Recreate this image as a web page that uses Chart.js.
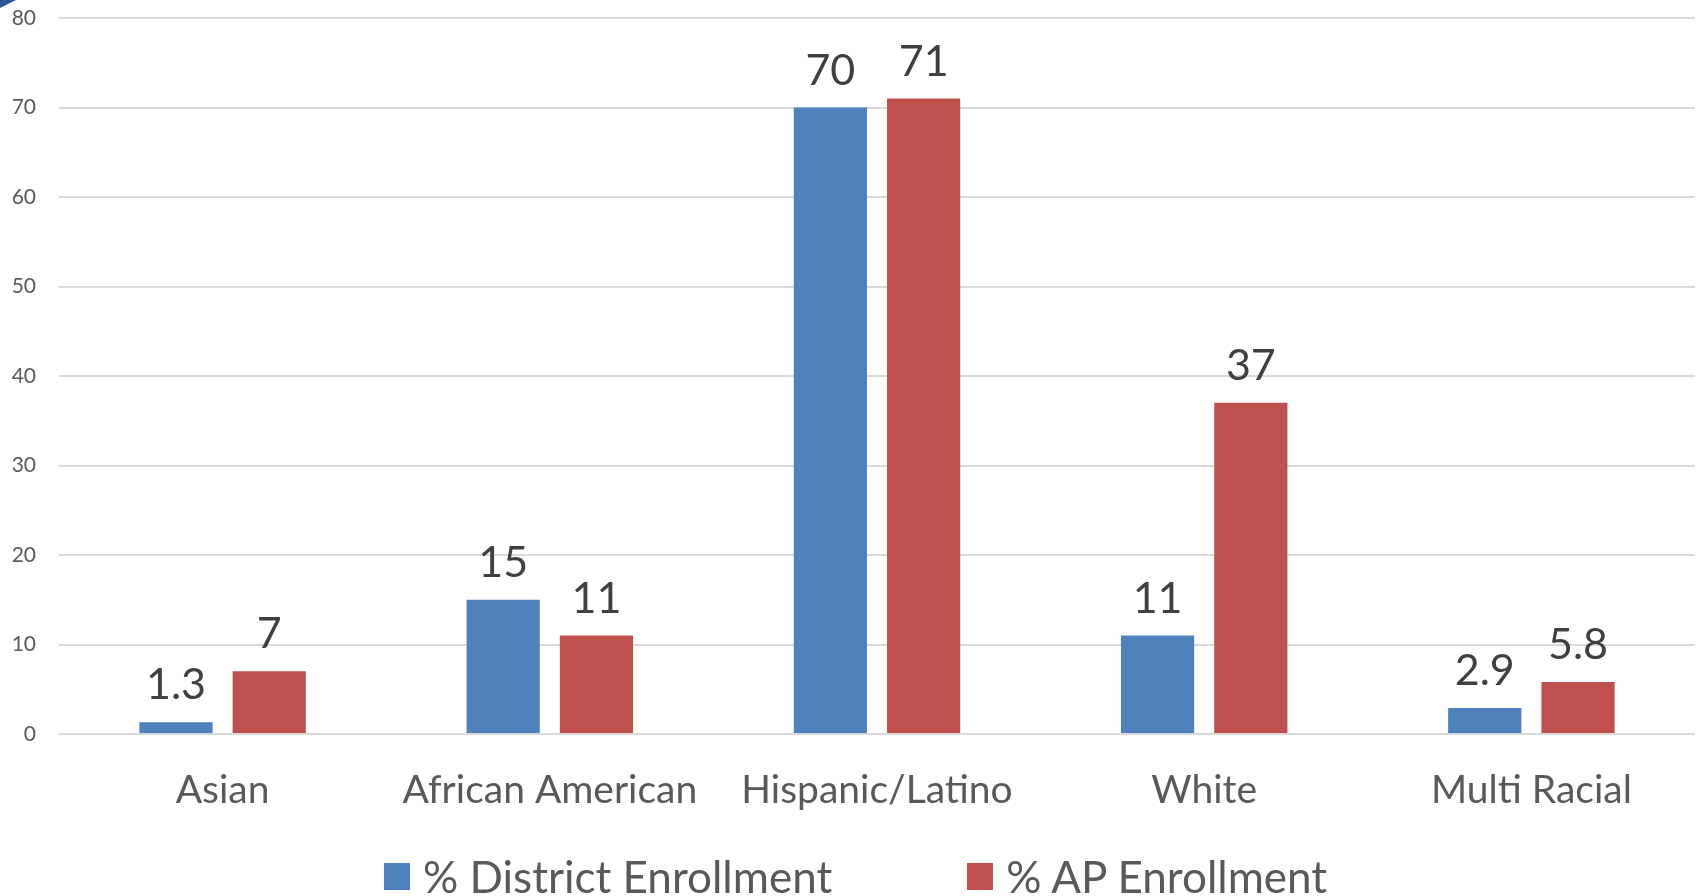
<!DOCTYPE html>
<html>
<head>
<meta charset="utf-8">
<script src="https://cdn.jsdelivr.net/npm/chart.js@4/dist/chart.umd.min.js"></script>
<style>
  html, body { margin: 0; padding: 0; background: #fff; }
  #wrap { position: relative; width: 1698px; height: 896px; overflow: hidden; }
  #corner { position: absolute; left: 0; top: 0; width: 0; height: 0;
            border-top: 8px solid #2F5597; border-right: 16px solid transparent; }
  #legend { position: absolute; left: 384px; top: 850px; display: flex; align-items: center;
            font-family: Lato, 'Open Sans', sans-serif; font-size: 44px; color: #595959; white-space: nowrap; }
  #legend .item { display: flex; align-items: center; }
  #legend .box { width: 26px; height: 27px; margin-right: 13px; }
</style>
</head>
<body>
<div id="wrap">
	<canvas id="myChart" width="1698" height="896"></canvas>
	<div id="corner"></div>
	<div id="legend"></div>
</div>
<script>
(function(){

	"use strict";

	// Chart data
	const categories = ["Asian", "African American", "Hispanic/Latino", "White", "Multi Racial"];
	const districtEnrollment = [1.3, 15, 70, 11, 2.9];
	const apEnrollment = [7, 11, 71, 37, 5.8];
	const yTicks = [0, 10, 20, 30, 40, 50, 60, 70, 80];
	const seriesNames = ["% District Enrollment", "% AP Enrollment"];
	const seriesColors = ["#4F81BD", "#C0504D"];

	const FONT = "Lato, 'Open Sans', sans-serif";

	// Value labels drawn above each bar
	const barLabels = {
		id: "barLabels",
		afterDatasetsDraw(chart) {
			const ctx = chart.ctx;
			ctx.save();
			ctx.font = "43px " + FONT;
			ctx.fillStyle = "#404040";
			ctx.textAlign = "center";
			ctx.textBaseline = "alphabetic";
			chart.data.datasets.forEach(function(ds, i){
				chart.getDatasetMeta(i).data.forEach(function(bar, j){
					ctx.fillText(String(ds.data[j]), bar.x, bar.y - 23);
				});
			});
			ctx.restore();
		}
	};

	const data = {
		labels: categories,
		datasets: [{
			label: seriesNames[0],
			backgroundColor: seriesColors[0],
			data: districtEnrollment,
			categoryPercentage: 0.57,
			barPercentage: 0.785
		},
		{
			label: seriesNames[1],
			backgroundColor: seriesColors[1],
			data: apEnrollment,
			categoryPercentage: 0.57,
			barPercentage: 0.785
		}]
	};

	const config = {
		type: "bar",
		data,
		options: {
			responsive: false,
			animation: false,
			layout: { padding: { top: 18, right: 3, left: 0, bottom: 0 } },
			plugins: {
				tooltip: { enabled: false },
				legend: { display: false }
			},
			scales: {
				x: {
					grid: { display: false },
					border: { display: false },
					ticks: {
						font: { family: FONT, size: 39 },
						color: "#595959",
						padding: 25
					},
					afterFit(scale) { scale.height = 162; }
				},
				y: {
					min: 0,
					max: 80,
					afterBuildTicks(scale) {
						scale.ticks = yTicks.map(function(v){ return { value: v }; });
					},
					grid: { color: "#d9d9d9", lineWidth: 2, drawTicks: true, tickLength: 23, tickColor: "rgba(0,0,0,0)" },
					border: { display: false },
					ticks: {
						font: { family: FONT, size: 21 },
						color: "#595959",
						padding: 0
					},
					afterFit(scale) { scale.width = 59; }
				}
			}
		},
		plugins: [barLabels]
	};

	const myChart = new Chart(document.getElementById("myChart"), config);

	// Legend built from the datasets
	const legend = document.getElementById("legend");
	myChart.data.datasets.forEach(function(ds, i){
		const item = document.createElement("div");
		item.className = "item";
		if (i > 0) item.style.marginLeft = "135px";
		const box = document.createElement("span");
		box.className = "box";
		box.style.background = ds.backgroundColor;
		const txt = document.createElement("span");
		txt.textContent = ds.label;
		item.appendChild(box);
		item.appendChild(txt);
		legend.appendChild(item);
	});

})();
</script>
</body>
</html>
